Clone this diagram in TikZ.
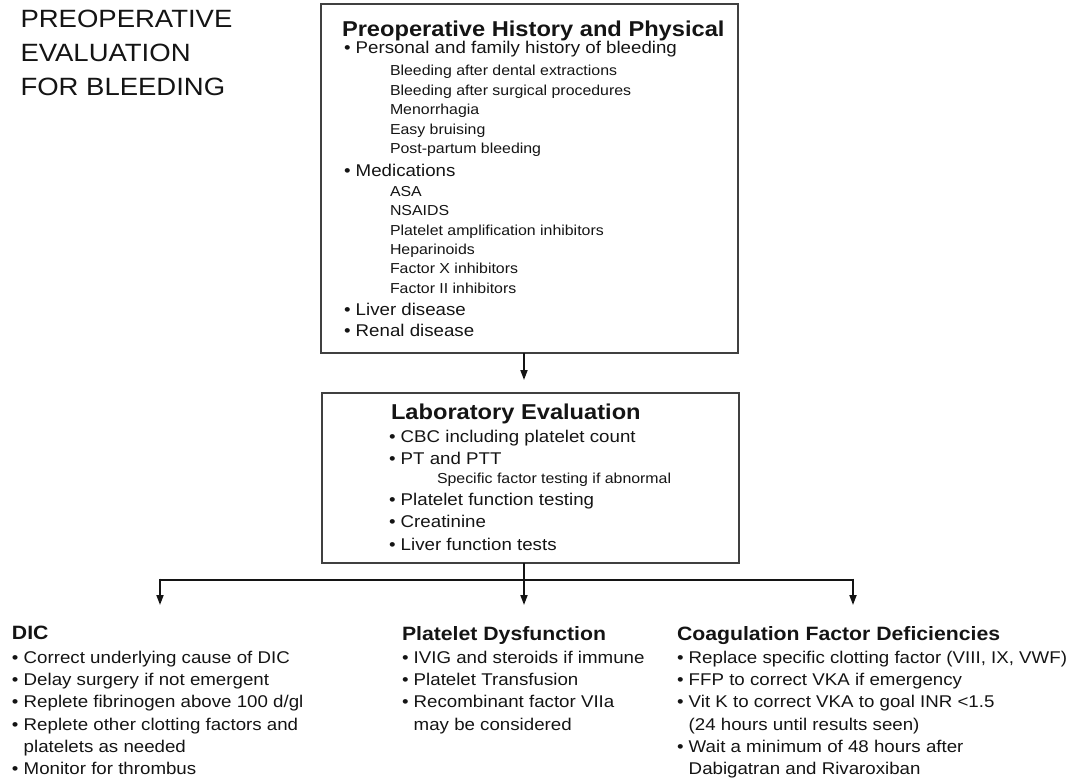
\documentclass[tikz,border=0pt]{standalone}
\usepackage{fontspec}
\setmainfont[FakeStretch=1.1]{Liberation Sans}
\usetikzlibrary{arrows.meta}
\definecolor{ink}{gray}{0.08}
\definecolor{frame}{gray}{0.25}

\begin{document}
\begin{tikzpicture}[x=1pt,y=-1pt,
  every node/.style={inner sep=0pt, outer sep=0pt, text=ink},
  lbl/.style={anchor=base west},
  title/.style={lbl, font=\fontsize{25}{30}\selectfont},
  head/.style={lbl, font=\fontsize{21.5}{25}\selectfont\bfseries},
  subhead/.style={lbl, font=\fontsize{19.3}{23}\selectfont\bfseries},
  item/.style={lbl, font=\fontsize{17}{20}\selectfont},
  subitem/.style={lbl, font=\fontsize{14.45}{17}\selectfont},
  panel/.style={draw=frame, line width=1.5pt, anchor=north west},
  wire/.style={draw=ink, line width=1.8pt},
  arr/.style={wire, -{Triangle[length=10pt,width=7pt]}},
]
\useasboundingbox (0,0) rectangle (1071,779);

% ---- title ----
\node[title] (ttl1) at (20.5,27.5) {PREOPERATIVE};
\node[title] (ttl2) at (20.5,61.5) {EVALUATION};
\node[title] (ttl3) at (20.5,95.5) {FOR BLEEDING};

% ---- history and physical ----
\node[panel, minimum width=417pt, minimum height=349pt] (hp) at (321,4) {};
\node[head] (hp-h) at (342,36) {Preoperative History and Physical};
\node[item] (hp-b1) at (344,53.2) {• Personal and family history of bleeding};
\foreach \yy/\tx [count=\i] in {75.5/{Bleeding after dental extractions},
    95/{Bleeding after surgical procedures}, 114.5/{Menorrhagia},
    134/{Easy bruising}, 153.5/{Post-partum bleeding}}
  \node[subitem] (hp-s\i) at (390,\yy) {\tx};
\node[item] (hp-b2) at (344,176.5) {• Medications};
\foreach \yy/\tx [count=\i] in {196.5/{ASA}, 215.8/{NSAIDS},
    235.1/{Platelet amplification inhibitors}, 254.4/{Heparinoids},
    273.7/{Factor X inhibitors}, 293/{Factor II inhibitors}}
  \node[subitem] (hp-m\i) at (390,\yy) {\tx};
\node[item] (hp-b3) at (344,315.5) {• Liver disease};
\node[item] (hp-b4) at (344,336.5) {• Renal disease};

% ---- laboratory evaluation ----
\node[panel, minimum width=417pt, minimum height=170pt] (lab) at (322,393) {};
\node[head] (lab-h) at (391,419) {Laboratory Evaluation};
\node[item] (lab-b1) at (389,442) {• CBC including platelet count};
\node[item] (lab-b2) at (389,464.5) {• PT and PTT};
\node[subitem] (lab-s1) at (437,483.5) {Specific factor testing if abnormal};
\node[item] (lab-b3) at (389,505) {• Platelet function testing};
\node[item] (lab-b4) at (389,527.5) {• Creatinine};
\node[item] (lab-b5) at (389,550) {• Liver function tests};

% ---- DIC ----
\node[subhead] (dic) at (12,639.5) {DIC};
\node[item] (dic-1) at (12,663.5) {• Correct underlying cause of DIC};
\node[item] (dic-2) at (12,685.7) {• Delay surgery if not emergent};
\node[item] (dic-3) at (12,707.9) {• Replete fibrinogen above 100 d/gl};
\node[item] (dic-4) at (12,730.1) {• Replete other clotting factors and};
\node[item] (dic-5) at (12,752.3) {\phantom{• }platelets as needed};
\node[item] (dic-6) at (12,774.5) {• Monitor for thrombus};

% ---- platelet dysfunction ----
\node[subhead] (plt) at (402,640.5) {Platelet Dysfunction};
\node[item] (plt-1) at (402,663.5) {• IVIG and steroids if immune};
\node[item] (plt-2) at (402,685.7) {• Platelet Transfusion};
\node[item] (plt-3) at (402,707.9) {• Recombinant factor VIIa};
\node[item] (plt-4) at (402,730.1) {\phantom{• }may be considered};

% ---- coagulation factor deficiencies ----
\node[subhead] (cfd) at (677,640) {Coagulation Factor Deficiencies};
\node[item] (cfd-1) at (677,663.5) {• Replace specific clotting factor (VIII, IX, VWF)};
\node[item] (cfd-2) at (677,685.7) {• FFP to correct VKA if emergency};
\node[item] (cfd-3) at (677,707.9) {• Vit K to correct VKA to goal INR <1.5};
\node[item] (cfd-4) at (677,730.1) {\phantom{• }(24 hours until results seen)};
\node[item] (cfd-5) at (677,752.3) {• Wait a minimum of 48 hours after};
\node[item] (cfd-6) at (677,774.5) {\phantom{• }Dabigatran and Rivaroxiban};

% ---- connectors ----
\coordinate (axis) at (524,0);
\coordinate (bus)  at (0,580);
\coordinate (tipA) at (160,605);
\coordinate (tipB) at (524,605);
\coordinate (tipC) at (853,605);

\draw[arr] (hp.south -| axis) -- ([yshift=13pt]lab.north -| axis);
\draw[wire, line width=2.8pt] (tipA |- bus) -- (tipC |- bus);
\draw[arr] (lab.south -| axis) -- (tipB);
\draw[arr] ([yshift=1.4pt]tipA |- bus) -- (tipA);
\draw[arr] ([yshift=1.4pt]tipC |- bus) -- (tipC);
\end{tikzpicture}
\end{document}
